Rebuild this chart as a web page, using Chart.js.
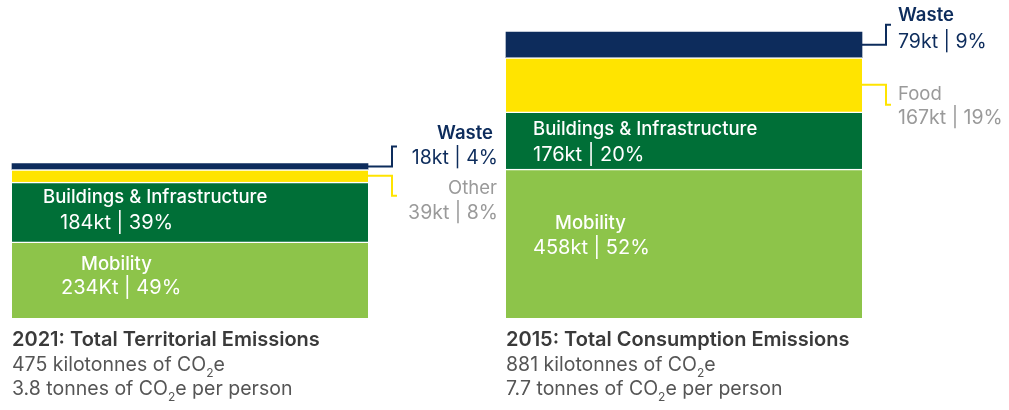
<!DOCTYPE html>
<html>
<head>
<meta charset="utf-8">
<script src="https://cdn.jsdelivr.net/npm/chart.js@4"></script>
<style>
  body { margin: 0; background: #fff; }
  #wrap { width: 1009px; height: 410px; position: relative; }
</style>
</head>
<body>
<div id="wrap"><canvas id="emissions"></canvas></div>
<script>
const periods = ["2021: Total Territorial Emissions", "2015: Total Consumption Emissions"];
const totals = ["475 kilotonnes of CO", "881 kilotonnes of CO"];
const perPerson = ["3.8 tonnes of CO", "7.7 tonnes of CO"];
const mobility = [234, 458];
const buildings = [184, 176];
const otherFood = [39, 167];
const waste = [18, 79];
const mobilityPct = [49, 52];
const buildingsPct = [39, 20];
const otherFoodPct = [8, 19];
const wastePct = [4, 9];
const otherFoodNames = ["Other", "Food"];
const unitMobility = ["Kt", "kt"];

const NAVY = "#0d2c5c";
const YELLOW = "#ffe400";
const DKGREEN = "#006f37";
const LTGREEN = "#8dc44a";
const GREY = "#9a9a9a";
const FONT = "Inter, 'Open Sans', sans-serif";

function txt(ctx, s, x, y, size, weight, color, align) {
  ctx.font = weight + " " + size + "px " + FONT;
  ctx.fillStyle = color;
  ctx.textAlign = align || "left";
  ctx.textBaseline = "middle";
  ctx.fillText(s, x, y);
}

// text with subscript 2 followed by rest ("CO" + "2" + "e ...")
function co2(ctx, before, after, x, y, size, color) {
  ctx.font = "400 " + size + "px " + FONT;
  ctx.fillStyle = color;
  ctx.textAlign = "left";
  ctx.textBaseline = "middle";
  ctx.fillText(before, x, y);
  let w = ctx.measureText(before).width;
  ctx.font = "400 " + Math.round(size * 0.6) + "px " + FONT;
  ctx.fillText("2", x + w, y + 8);
  w += ctx.measureText("2").width;
  ctx.font = "400 " + size + "px " + FONT;
  ctx.fillText(after, x + w, y);
}

function connector(ctx, x, y, dy, color) {
  ctx.save();
  ctx.strokeStyle = color;
  ctx.lineWidth = 2;
  ctx.beginPath();
  ctx.moveTo(x, y);
  ctx.lineTo(x + 24, y);
  ctx.lineTo(x + 24, y + dy);
  ctx.lineTo(x + 29, y + dy);
  ctx.stroke();
  ctx.restore();
}

const labelsPlugin = {
  id: "labels",
  afterDatasetsDraw(chart) {
    const ctx = chart.ctx;
    const mob = chart.getDatasetMeta(0).data;
    const bld = chart.getDatasetMeta(1).data;
    const oth = chart.getDatasetMeta(2).data;
    const wst = chart.getDatasetMeta(3).data;
    const left = i => mob[i].x - mob[i].width / 2;
    const right = i => mob[i].x + mob[i].width / 2;

    // in-bar labels, left bar
    txt(ctx, "Buildings & Infrastructure", left(0) + 31, bld[0].y + 15, 18.5, 500, "#fff");
    txt(ctx, buildings[0] + "kt | " + buildingsPct[0] + "%", left(0) + 48, bld[0].y + 41, 20, 400, "#fff");
    txt(ctx, "Mobility", left(0) + 69, mob[0].y + 22, 18.5, 500, "#fff");
    txt(ctx, mobility[0] + unitMobility[0] + " | " + mobilityPct[0] + "%", left(0) + 49, mob[0].y + 46, 20, 400, "#fff");

    // in-bar labels, right bar
    txt(ctx, "Buildings & Infrastructure", left(1) + 27, bld[1].y + 17, 18.5, 500, "#fff");
    txt(ctx, buildings[1] + "kt | " + buildingsPct[1] + "%", left(1) + 27, bld[1].y + 43, 20, 400, "#fff");
    const mMid = (mob[1].y + mob[1].base) / 2;
    txt(ctx, "Mobility", left(1) + 49, mMid - 20, 18.5, 500, "#fff");
    txt(ctx, mobility[1] + unitMobility[1] + " | " + mobilityPct[1] + "%", left(1) + 27, mMid + 4, 20, 400, "#fff");

    // callouts, left bar (labels right-aligned)
    const w0 = (wst[0].y + wst[0].base) / 2;
    connector(ctx, right(0), w0, -20, NAVY);
    txt(ctx, "Waste", 493, w0 - 33, 18.5, 600, NAVY, "right");
    txt(ctx, waste[0] + "kt | " + wastePct[0] + "%", 498, w0 - 8, 19.5, 400, NAVY, "right");
    const o0 = (oth[0].y + oth[0].base) / 2;
    connector(ctx, right(0), o0, 20, YELLOW);
    txt(ctx, otherFoodNames[0], 497, o0 + 13, 18.5, 400, GREY, "right");
    txt(ctx, otherFood[0] + "kt | " + otherFoodPct[0] + "%", 498, o0 + 37, 19.5, 400, GREY, "right");

    // callouts, right bar (labels left-aligned)
    const w1 = (wst[1].y + wst[1].base) / 2;
    connector(ctx, right(1), w1, -20, NAVY);
    txt(ctx, "Waste", 898, w1 - 29, 18.5, 600, NAVY);
    txt(ctx, waste[1] + "kt | " + wastePct[1] + "%", 898, w1 - 3, 19.5, 400, NAVY);
    const o1 = (oth[1].y + oth[1].base) / 2;
    connector(ctx, right(1), o1, 20, YELLOW);
    txt(ctx, otherFoodNames[1], 898, o1 + 10, 18.5, 400, GREY);
    txt(ctx, otherFood[1] + "kt | " + otherFoodPct[1] + "%", 898, o1 + 33, 19.5, 400, GREY);

    // captions under the bars
    for (let i = 0; i < 2; i++) {
      const x = left(i);
      const b = mob[i].base;
      txt(ctx, periods[i], x, b + 22, 20, 600, "#3a3a3a");
      co2(ctx, totals[i], "e", x, b + 47, 19.5, "#555");
      co2(ctx, perPerson[i], "e per person", x, b + 71, 19.5, "#555");
    }
  }
};

const ds = (label, data, color, gap) => ({
  label: label,
  data: data,
  backgroundColor: color,
  borderColor: "#fff",
  borderWidth: gap ? { top: 1.5, bottom: 0, left: 0, right: 0 } : 0,
  borderSkipped: false,
  barThickness: 356,
  clip: false,
});

new Chart(document.getElementById("emissions"), {
  type: "bar",
  data: {
    labels: periods,
    datasets: [
      ds("Mobility", mobility, LTGREEN, true),
      ds("Buildings & Infrastructure", buildings, DKGREEN, true),
      ds("Other / Food", otherFood, YELLOW, true),
      ds("Waste", waste, NAVY, false),
    ],
  },
  options: {
    responsive: true,
    maintainAspectRatio: false,
    animation: false,
    layout: { padding: { left: 190, right: 325, top: 32, bottom: 92 } },
    plugins: { legend: { display: false }, tooltip: { enabled: false } },
    scales: {
      x: { display: false, stacked: true, offset: false },
      y: { display: false, stacked: true, min: 0, max: 880 },
    },
  },
  plugins: [labelsPlugin],
});
</script>
</body>
</html>
